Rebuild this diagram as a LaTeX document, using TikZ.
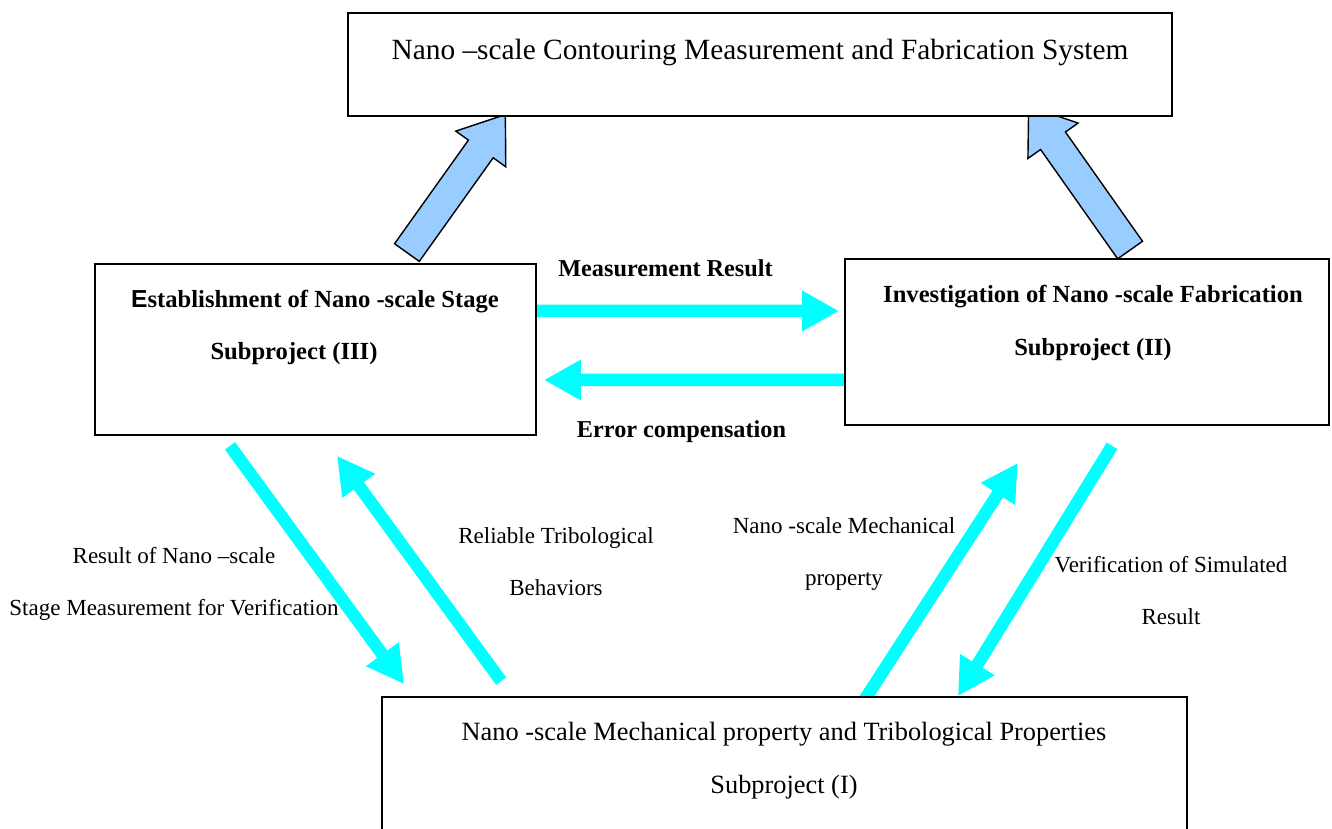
\documentclass[tikz,border=0pt]{standalone}
\usepackage{fontspec}
\setmainfont{Liberation Serif}
\newfontfamily\sansletter{Liberation Sans}
\usetikzlibrary{arrows.meta,shapes.arrows,backgrounds}
\definecolor{flowcyan}{HTML}{00FFFF}
\definecolor{paleblue}{HTML}{99CCFF}

\begin{document}
\begin{tikzpicture}[
    box/.style={draw=black,line width=1pt,fill=white,inner sep=0pt},
    boxtext/.style={align=center,font=\fontsize{14}{30}\selectfont\bfseries},
    flowlabel/.style={font=\fontsize{13.8}{30}\selectfont\bfseries},
    note/.style={align=center,font=\fontsize{13.1}{30}\selectfont},
    flow/.style={draw=flowcyan,line width=0.25cm,-{Triangle[length=0.74cm,width=0.76cm]}},
    bigarrow/.style={single arrow,draw=black,line width=0.8pt,fill=paleblue,inner sep=0.29cm,
      minimum width=0pt,single arrow head extend=0.31cm,single arrow tip angle=72,anchor=tail}
  ]
  \useasboundingbox (0,0) rectangle (26.64,16.56);

  % boxes
  \node[box,minimum width=16.48cm,minimum height=2.06cm] (sys) at (15.2,15.27) {};
  \node[box,minimum width=8.82cm,minimum height=3.42cm] (stage) at (6.31,9.57) {};
  \node[box,minimum width=9.68cm,minimum height=3.32cm] (fab) at (21.74,9.72) {};
  \node[box,minimum width=16.1cm,minimum height=3.12cm] (tribo) at (15.69,1.06) {};

  \node[font=\fontsize{16.7}{30}\selectfont] (systext) at (15.2,15.52)
    {Nano –scale Contouring Measurement and Fabrication System};
  \node[boxtext] (stagetext) at (6.3,10.01)
    {{\sansletter E}stablishment of Nano -scale Stage\\Subproject (III)\hspace*{0.84cm}};
  \node[boxtext] (fabtext) at (21.86,10.1)
    {Investigation of Nano -scale Fabrication\\Subproject (II)};
  \node[align=center,font=\fontsize{15}{30}\selectfont] (tribotext) at (15.68,1.34)
    {Nano -scale Mechanical property and Tribological Properties\\Subproject (I)};

  \begin{scope}[on background layer]
    \node[bigarrow,rotate=54.5,minimum height=3.39cm] (upleft) at ([shift={(1.82,0.2)}]stage.north) {};
    \node[bigarrow,rotate=125.2,minimum height=3.52cm] (upright) at ([shift={(0.87,0.15)}]fab.north) {};

    \draw[flow] ([yshift=7.7mm]stage.east) -- ([shift={(-0.1,0.62)}]fab.west);
    \draw[flow] ([yshift=-7.6mm]fab.west) -- ([shift={(0.14,-0.61)}]stage.east);

    \draw[flow] ([shift={(-1.71,-0.2)}]stage.south) -- ([shift={(0.46,0.24)}]tribo.north west);
    \draw[flow] ([shift={(2.4,0.3)}]tribo.north west) -- ([shift={(0.43,-0.4)}]stage.south);
    \draw[flow] ([shift={(1.61,-0.06)}]tribo.north) -- ([shift={(-1.38,-0.74)}]fab.south);
    \draw[flow] ([shift={(0.5,-0.4)}]fab.south) -- ([shift={(3.47,0)}]tribo.north);
  \end{scope}

  % labels
  \node[flowlabel] (measres) at (13.31,11.2) {Measurement Result};
  \node[flowlabel] (errcomp) at (13.63,7.92) {Error compensation};
  \node[note] (stagever) at (3.48,4.88) {Result of Nano –scale\\Stage Measurement for Verification};
  \node[note] (reliable) at (11.12,5.33) {Reliable Tribological\\Behaviors};
  \node[note] (mechprop) at (16.88,5.48) {Nano -scale Mechanical\\property};
  \node[note] (simver) at (23.42,4.75) {Verification of Simulated\\Result};
\end{tikzpicture}
\end{document}
